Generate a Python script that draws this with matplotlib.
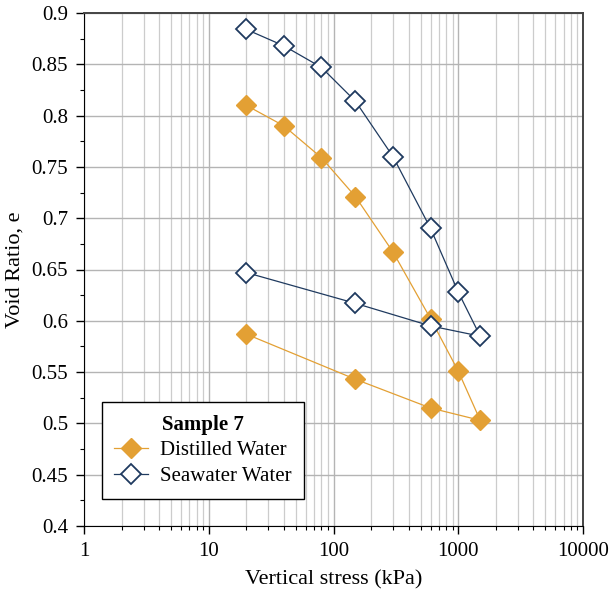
import numpy as np
import matplotlib.pyplot as plt
from matplotlib.ticker import MultipleLocator, LogLocator, FixedLocator

plt.rcParams['font.family'] = ['Liberation Serif', 'DejaVu Serif']

# vertical stress (kPa), loading then unloading
stress = [20, 40, 80, 150, 300, 600, 1000, 1500, 600, 150, 20]
e_distilled = [0.810, 0.790, 0.759, 0.721, 0.667, 0.602, 0.551, 0.503, 0.515, 0.543, 0.587]
e_seawater = [0.884, 0.868, 0.847, 0.814, 0.760, 0.690, 0.628, 0.585, 0.595, 0.617, 0.647]

orange = '#E3A034'
navy = '#1F3A5F'

fig = plt.figure(figsize=(6.10, 5.92), dpi=100)
ax = fig.add_axes([84/610, 66/592, 499/610, 513/592])

ax.plot(stress, e_distilled, color=orange, lw=0.9, marker='D', ms=10,
        mfc=orange, mec=orange, label='Distilled Water', zorder=3)
ax.plot(stress, e_seawater, color=navy, lw=0.9, marker='D', ms=10,
        mfc='white', mec=navy, mew=1.3, label='Seawater Water', zorder=4)

ax.set_xscale('log')
ax.set_xlim(1, 10000)
ax.set_ylim(0.4, 0.9)
ax.xaxis.set_major_locator(FixedLocator([1, 10, 100, 1000, 10000]))
ax.set_xticklabels(['1', '10', '100', '1000', '10000'])
ax.xaxis.set_minor_locator(LogLocator(base=10, subs=np.arange(2, 10), numticks=20))
ax.yaxis.set_major_locator(MultipleLocator(0.05))
ax.yaxis.set_minor_locator(MultipleLocator(0.025))
ax.yaxis.set_major_formatter(plt.FuncFormatter(lambda v, p: ('%.3f' % v).rstrip('0').rstrip('.')))

ax.grid(True, which='major', color='#b4b4b4', lw=1.0)
ax.grid(True, which='minor', axis='x', color='#cccccc', lw=0.9)
ax.set_axisbelow(True)

ax.tick_params(which='both', direction='out', labelsize=15, top=False, right=False)
ax.tick_params(which='major', length=5.5, width=1, pad=6)
ax.tick_params(which='minor', length=3, width=0.8)
for s in ['top', 'right']:
    ax.spines[s].set_color('#444444')
    ax.spines[s].set_linewidth(1.4)
for s in ['left', 'bottom']:
    ax.spines[s].set_color('black')

ax.set_xlabel('Vertical stress (kPa)', fontsize=16, labelpad=7)
ax.set_ylabel('Void Ratio, e', fontsize=16, labelpad=5)

leg = ax.legend(title='Sample 7', loc='lower left', bbox_to_anchor=(0.036, 0.053),
                borderaxespad=0, fontsize=15, title_fontproperties={'weight': 'bold', 'size': 15},
                fancybox=False, edgecolor='black', framealpha=1, handlelength=1.6,
                borderpad=0.6, labelspacing=0.3, handletextpad=0.6)
leg.get_frame().set_linewidth(1.0)

fig.savefig('out.png', dpi=100)
